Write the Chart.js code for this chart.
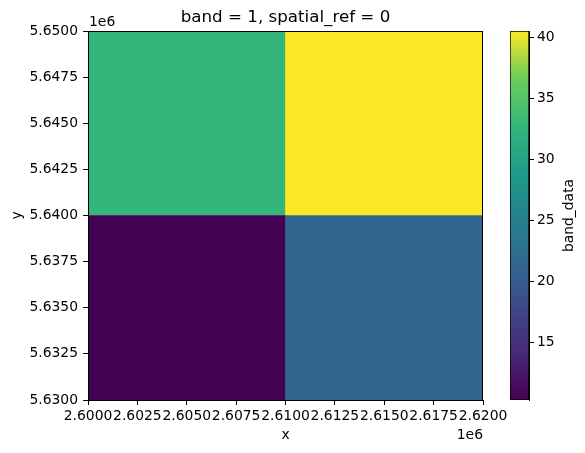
<!DOCTYPE html>
<html>
<head>
<meta charset="utf-8">
<script src="https://cdn.jsdelivr.net/npm/chart.js@4"></script>
<style>
  body { margin: 0; background: #fff; }
  #wrap { position: relative; width: 585px; height: 453px; }
  #wrap canvas { position: absolute; left: 0; top: 0; }
</style>
</head>
<body>
<div id="wrap">
  <canvas id="raster" width="585" height="453"></canvas>
  <canvas id="cbar" width="585" height="453"></canvas>
</div>
<script>
// cell columns (x centres), row edges and band values
const xCells = ['2.605e6', '2.615e6'];
const yEdges = [5630000, 5640000, 5650000];
const rowLower = [10.3, 21.5];
const rowUpper = [32.8, 40.5];
const xTicks = [2600000, 2602500, 2605000, 2607500, 2610000, 2612500, 2615000, 2617500, 2620000];
const yTicks = [5630000, 5632500, 5635000, 5637500, 5640000, 5642500, 5645000, 5647500, 5650000];
const cbTicks = [15, 20, 25, 30, 35, 40];
const cbMin = 10.3, cbMax = 40.5;

const viridis = ['#440154', '#482878', '#3e4989', '#31688e', '#26828e', '#1f9e89', '#35b779', '#6ece58', '#fde725'];

function hex(c) { return [1, 3, 5].map(i => parseInt(c.substr(i, 2), 16)); }
function cmap(t) {
  t = Math.max(0, Math.min(1, t));
  var p = t * (viridis.length - 1), i = Math.min(Math.floor(p), viridis.length - 2), f = p - i;
  var a = hex(viridis[i]), b = hex(viridis[i + 1]);
  return 'rgb(' + a.map((v, k) => Math.round(v + (b[k] - v) * f)).join(',') + ')';
}
function norm(v) { return (v - cbMin) / (cbMax - cbMin); }

const FONT = { family: 'DejaVu Sans', size: 13.9 };
Chart.defaults.font.family = 'DejaVu Sans';
Chart.defaults.color = '#000';

const frame = {
  id: 'frame',
  afterDraw(chart) {
    const a = chart.chartArea, c = chart.ctx;
    c.save();
    c.strokeStyle = '#000';
    c.lineWidth = 1;
    c.strokeRect(a.left + 0.5, a.top + 0.5, a.right - a.left - 1, a.bottom - a.top);
    c.font = '16.7px "DejaVu Sans"';
    c.textAlign = 'center';
    c.textBaseline = 'alphabetic';
    c.fillStyle = '#000';
    c.fillText('band = 1, spatial_ref = 0', (a.left + a.right) / 2, 22);
    c.font = '13.9px "DejaVu Sans"';
    c.textAlign = 'left';
    c.fillText('1e6', a.left + 1, 26);
    c.textAlign = 'right';
    c.fillText('1e6', a.right, 439);
    c.restore();
  }
};

const cbLabel = {
  id: 'cbLabel',
  afterDraw(chart) {
    const c = chart.ctx, a = chart.chartArea;
    c.save();
    c.font = '13.9px "DejaVu Sans"';
    c.fillStyle = '#000';
    c.textAlign = 'center';
    c.textBaseline = 'middle';
    c.translate(569, (a.top + a.bottom) / 2);
    c.rotate(-Math.PI / 2);
    c.fillText('band_data', 0, 0);
    c.restore();
  }
};

function fmt(v) { return (v / 1e6).toFixed(4); }

new Chart(document.getElementById('raster'), {
  type: 'bar',
  data: {
    labels: xCells,
    datasets: [
      { data: xCells.map(() => [yEdges[0], yEdges[1]]), backgroundColor: rowLower.map(v => cmap(norm(v))) },
      { data: xCells.map(() => [yEdges[1], yEdges[2]]), backgroundColor: rowUpper.map(v => cmap(norm(v))) }
    ]
  },
  options: {
    responsive: false,
    animation: false,
    grouped: false,
    barPercentage: 1,
    categoryPercentage: 1,
    layout: { padding: { top: 31, right: 102, left: 0, bottom: 0 } },
    plugins: { legend: { display: false }, tooltip: { enabled: false } },
    scales: {
      x: { type: 'category', display: false },
      x2: {
        type: 'linear', position: 'bottom', offset: false, min: xTicks[0], max: xTicks[xTicks.length - 1],
        afterBuildTicks: s => { s.ticks = xTicks.map(v => ({ value: v })); },
        afterFit: s => { s.height = 53; },
        ticks: { callback: fmt, autoSkip: false, maxRotation: 0, minRotation: 0, font: FONT, padding: 3, color: '#000' },
        grid: { offset: false, drawOnChartArea: false, tickLength: 5, color: '#000' },
        border: { color: '#000' },
        title: { display: true, text: 'x', font: FONT, color: '#000', padding: { top: 0, bottom: 9 } }
      },
      y: {
        type: 'linear', min: yTicks[0], max: yTicks[yTicks.length - 1],
        afterBuildTicks: s => { s.ticks = yTicks.map(v => ({ value: v })); },
        afterFit: s => { s.width = 88; },
        ticks: { callback: fmt, font: FONT, padding: 5, color: '#000' },
        grid: { drawOnChartArea: false, tickLength: 5, color: '#000' },
        border: { color: '#000' },
        title: { display: true, text: 'y', font: FONT, color: '#000', padding: { top: 9, bottom: 0 } }
      }
    }
  },
  plugins: [frame]
});

new Chart(document.getElementById('cbar'), {
  type: 'bar',
  data: {
    labels: ['band_data'],
    datasets: [{
      data: [[cbMin, cbMax]],
      backgroundColor: (ctx) => {
        const a = ctx.chart.chartArea;
        if (!a) return viridis[0];
        const g = ctx.chart.ctx.createLinearGradient(0, a.bottom, 0, a.top);
        viridis.forEach((c, i) => g.addColorStop(i / (viridis.length - 1), c));
        return g;
      },
      borderColor: '#000',
      borderWidth: 1,
      borderSkipped: false
    }]
  },
  options: {
    responsive: false,
    animation: false,
    barPercentage: 1,
    categoryPercentage: 1,
    layout: { padding: { top: 31, right: 0, left: 510, bottom: 53 } },
    plugins: { legend: { display: false }, tooltip: { enabled: false } },
    scales: {
      x: { display: false },
      y: {
        position: 'right', min: cbMin, max: cbMax,
        afterBuildTicks: s => { s.ticks = cbTicks.map(v => ({ value: v })); },
        afterFit: s => { s.width = 56; },
        ticks: { font: FONT, padding: 3, color: '#000' },
        grid: { drawOnChartArea: false, tickLength: 5, color: '#000' },
        border: { color: '#000' }
      }
    }
  },
  plugins: [cbLabel]
});
</script>
</body>
</html>
